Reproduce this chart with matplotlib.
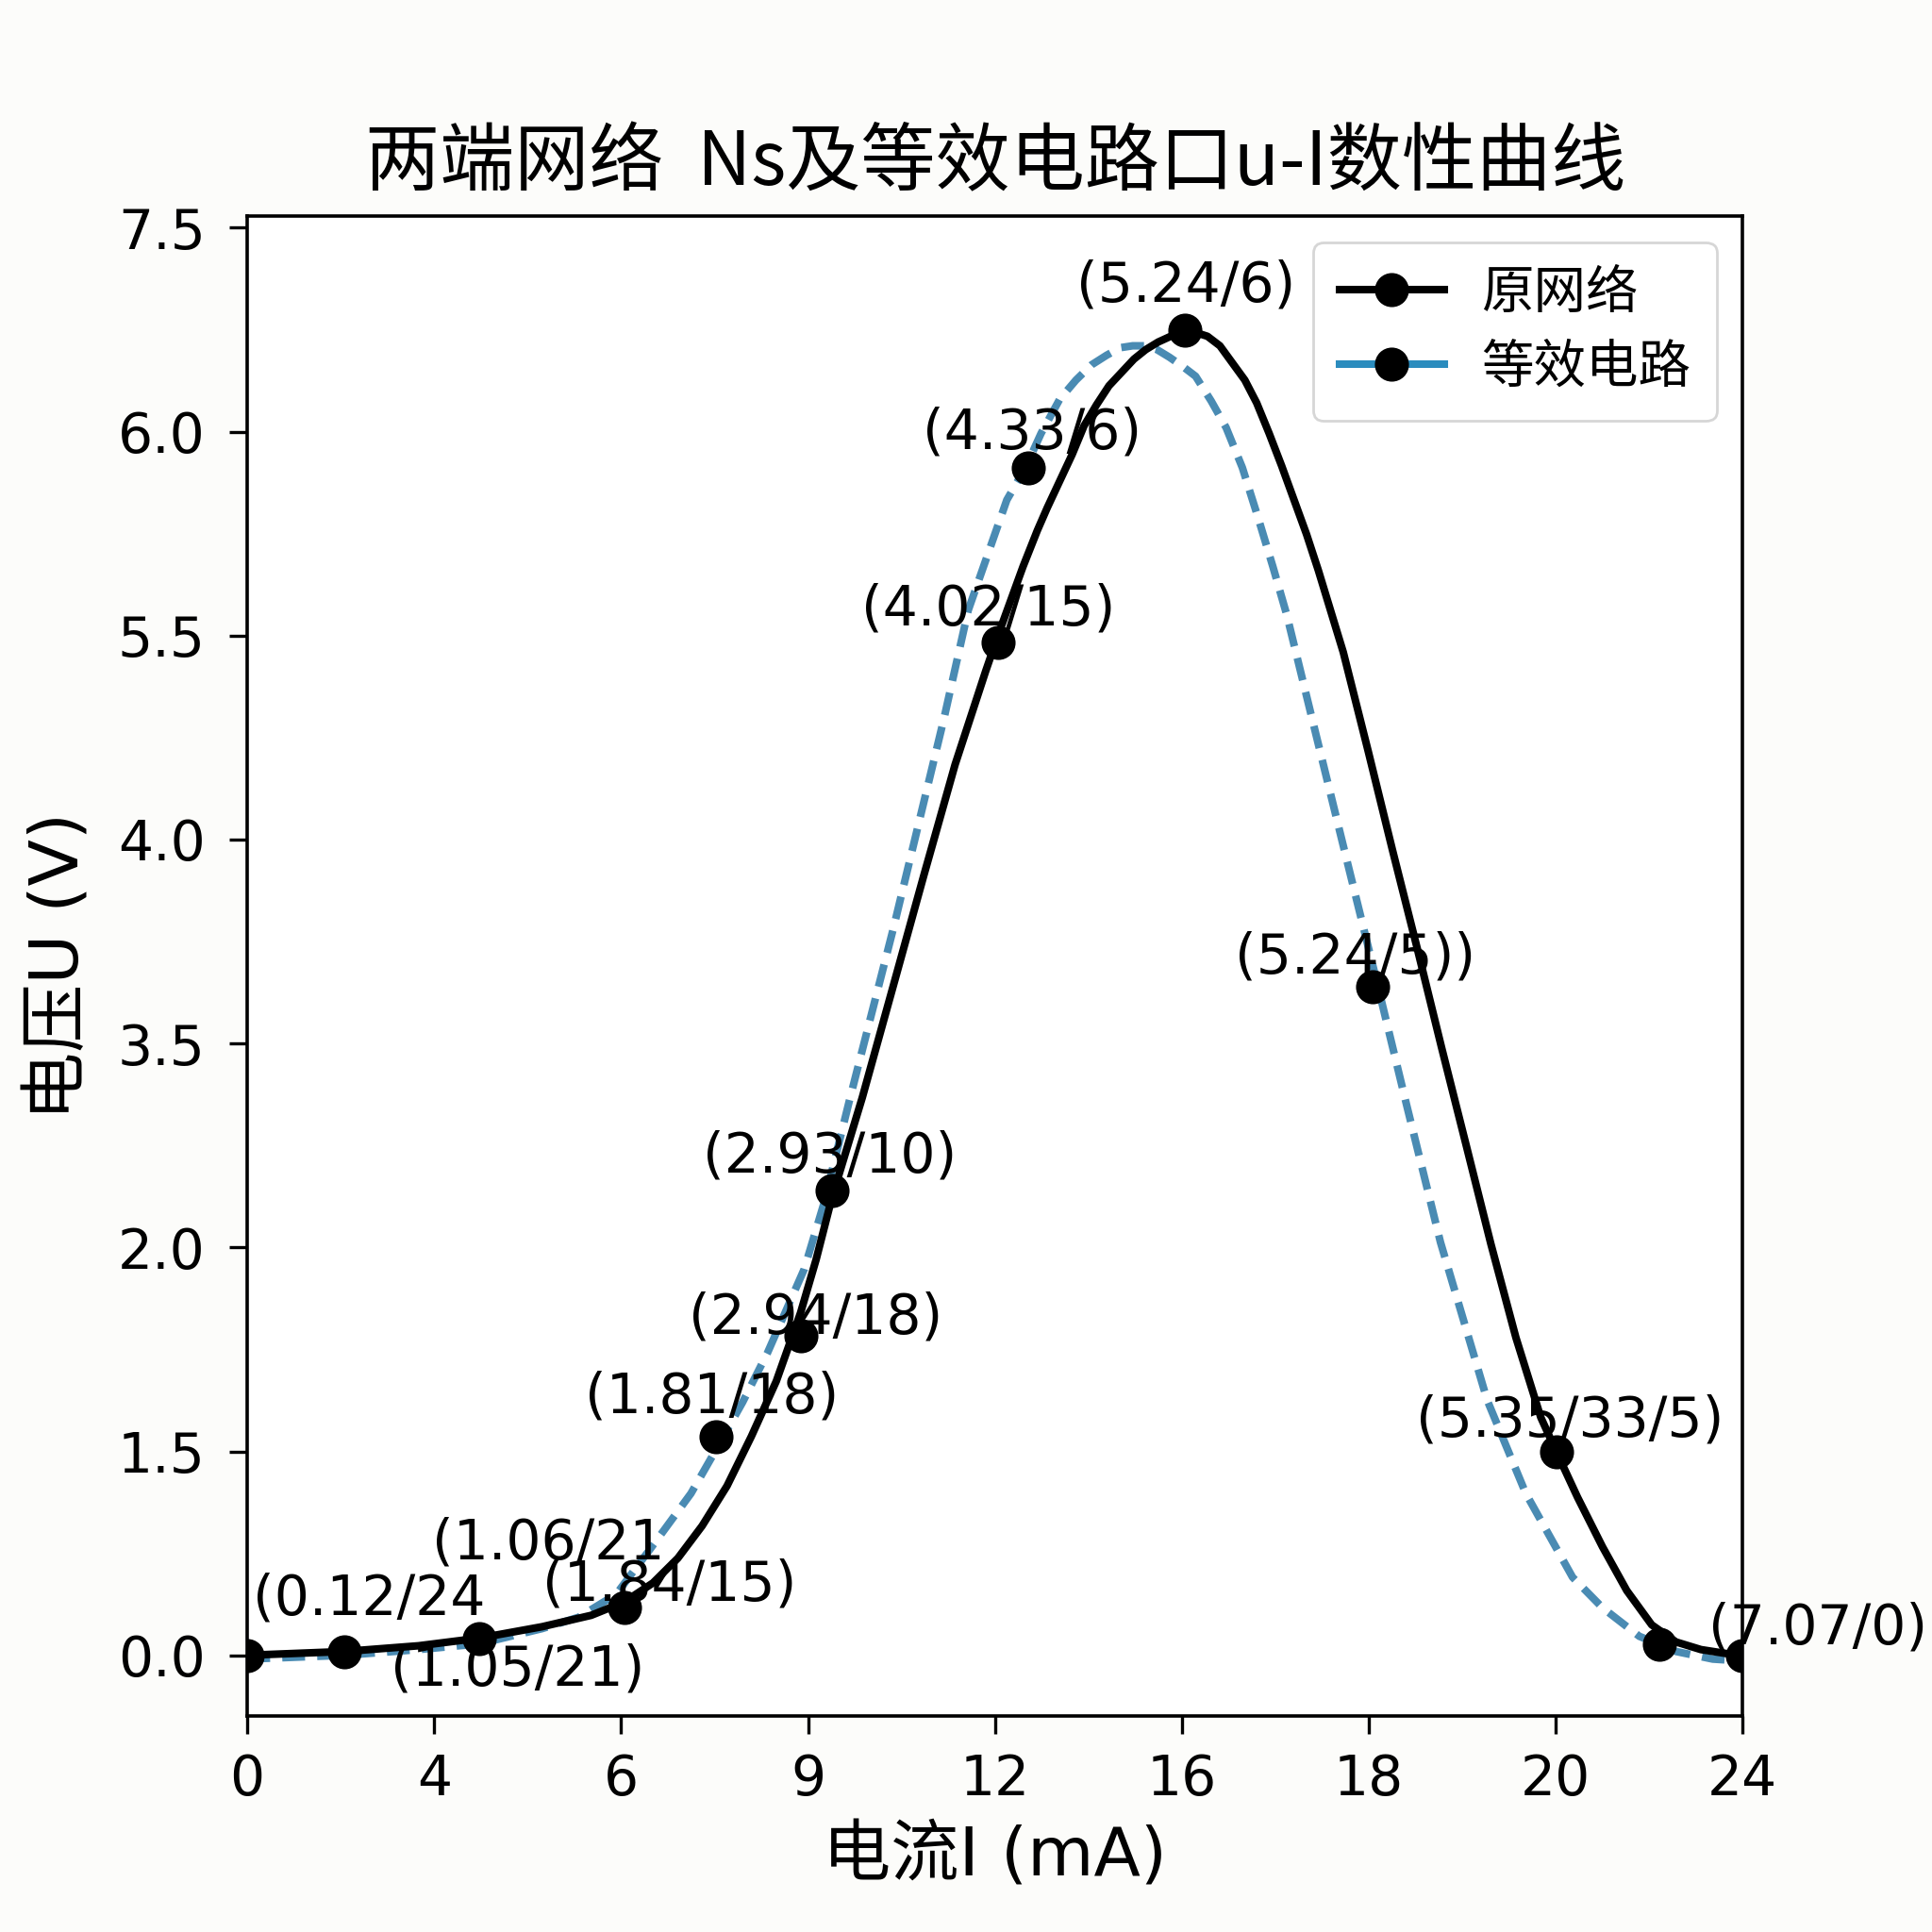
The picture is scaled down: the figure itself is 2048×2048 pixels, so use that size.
import matplotlib
matplotlib.use("Agg")
import matplotlib.pyplot as plt
from matplotlib.lines import Line2D

plt.rcParams["font.family"] = ["DejaVu Sans", "Noto Sans CJK SC"]
plt.rcParams["axes.unicode_minus"] = False

# Data (axis units: x 0..24, y 0..7.5, tick labels are the printed ones)
x_ticks = [0, 3, 6, 9, 12, 15, 18, 21, 24]
x_ticklabels = ["0", "4", "6", "9", "12", "16", "18", "20", "24"]
y_ticks = [0, 1.0714, 2.1429, 3.2143, 4.2857, 5.3571, 6.4286, 7.5]
y_ticklabels = ["0.0", "1.5", "2.0", "3.5", "4.0", "5.5", "6.0", "7.5"]

# 原网络 (solid curve)
orig_x = [0, 1.56, 2.75, 3.72, 4.73, 5.52, 6.05, 6.51, 6.91, 7.30, 7.70, 8.09,
          8.49, 8.88, 9.13, 9.38, 9.87, 10.37, 10.86, 11.36, 11.85, 12.05, 12.45,
          12.68, 12.84, 13.04, 13.24, 13.43, 13.63, 13.83, 14.03, 14.23, 14.42,
          14.62, 14.82, 15.04, 15.22, 15.41, 15.61, 15.81, 16.01, 16.20, 16.40,
          16.60, 16.80, 17.00, 17.19, 17.59, 17.99, 18.38, 18.78, 19.17, 19.57,
          19.96, 20.36, 20.76, 21.01, 21.35, 21.75, 22.14, 22.54, 22.93, 23.33,
          23.72, 24.0]
orig_y = [0, 0.02, 0.05, 0.09, 0.15, 0.21, 0.28, 0.38, 0.51, 0.68, 0.89, 1.15,
          1.44, 1.80, 2.08, 2.40, 2.93, 3.52, 4.10, 4.68, 5.17, 5.36, 5.72,
          5.91, 6.03, 6.17, 6.31, 6.46, 6.57, 6.67, 6.74, 6.81, 6.86,
          6.90, 6.93, 6.96, 6.95, 6.93, 6.88, 6.79, 6.70, 6.58, 6.42,
          6.25, 6.07, 5.89, 5.70, 5.27, 4.75, 4.23, 3.71, 3.19, 2.67,
          2.16, 1.67, 1.25, 1.07, 0.83, 0.57, 0.34, 0.16, 0.07, 0.03,
          0.01, 0.0]

# 等效电路 (dashed curve)
equiv_x = [0, 1.56, 2.75, 3.72, 4.73, 5.32, 5.92, 6.47, 7.12, 7.54, 7.95, 8.35,
           8.94, 9.26, 9.66, 10.37, 11.18, 11.57, 12.19, 12.49, 12.74, 13.04, 13.30,
           13.55, 13.79, 14.01, 14.21, 14.40, 14.60, 14.80, 15.02, 15.22, 15.47,
           15.71, 15.97, 16.22, 16.46, 16.68, 17.15, 17.63, 18.12, 18.60,
           19.15, 19.90, 20.52, 21.27, 21.75, 22.34, 22.93, 23.52, 24.0]
equiv_y = [-0.02, 0.0, 0.03, 0.06, 0.14, 0.20, 0.32, 0.56, 0.85, 1.09, 1.33, 1.59,
           2.03, 2.38, 2.91, 3.82, 4.92, 5.49, 6.07, 6.24, 6.42, 6.60, 6.70,
           6.78, 6.83, 6.87, 6.88, 6.88, 6.86, 6.82, 6.77, 6.72, 6.59,
           6.45, 6.24, 5.98, 5.72, 5.47, 4.84, 4.20, 3.55, 2.90,
           2.17, 1.34, 0.85, 0.41, 0.25, 0.10, 0.02, -0.02, -0.03]

# measured points
pts_x = [0, 1.56, 3.72, 6.05, 7.52, 8.88, 9.38, 12.05, 12.54, 15.04, 18.06, 21.01, 22.66, 24.0]
pts_y = [0, 0.02, 0.09, 0.25, 1.15, 1.68, 2.44, 5.32, 6.24, 6.96, 3.51, 1.07, 0.06, 0.0]

labels = ["(0.12/24", "(1.06/21", "(1.05/21)", "(1.84/15)", "(1.81/18)",
          "(2.94/18)", "(2.93/10)", "(4.02/15)", "(4.33/6)", "(5.24/6)",
          "(5.24/5))", "(5.35/33/5)", "(7.07/0)"]
label_pt = [0, 2, 2, 3, 4, 5, 6, 7, 8, 9, 10, 11, 13]
label_off = [(46.5, 21.6), (26.3, 36.2), (14.6, -12.2), (17.4, 8.9), (-1.4, 15.0),
             (5.6, 6.6), (-0.9, 13.2), (-3.8, 12.7), (1.4, 13.2), (0.5, 16.9),
             (-6.6, 11.3), (5.2, 11.8), (28.7, 10.3)]

fig = plt.figure(figsize=(10.24, 10.24), dpi=200, facecolor="#fcfcfa")
ax = fig.add_axes([0.128, 0.112, 0.774, 0.776])
ax.set_facecolor("white")

ax.plot(orig_x, orig_y, color="black", lw=2.9, zorder=3, solid_joinstyle="round")
ax.plot(equiv_x, equiv_y, color="#4a8bb3", lw=2.9, ls=(0, (3.0, 1.6)), zorder=2)
ax.plot(pts_x, pts_y, "o", color="black", ms=12, zorder=4)

for t, i, off in zip(labels, label_pt, label_off):
    ax.annotate(t, (pts_x[i], pts_y[i]), xytext=off, textcoords="offset points",
                ha="center", va="center", fontsize=21, zorder=5)

ax.set_xlim(0, 24)
ax.set_ylim(-0.317, 7.56)
ax.set_xticks(x_ticks)
ax.set_xticklabels(x_ticklabels)
ax.set_yticks(y_ticks)
ax.set_yticklabels(y_ticklabels)
ax.tick_params(axis="both", labelsize=21, length=7, width=1.2)
ax.tick_params(axis="x", pad=7)
ax.tick_params(axis="y", pad=9)
for s in ax.spines.values():
    s.set_linewidth(1.3)

ax.set_xlabel("电流I (mA)", fontsize=26)
ax.set_ylabel("电压U (V)", fontsize=26)
ax.xaxis.set_label_coords(0.5, -0.072)
ax.yaxis.set_label_coords(-0.103, 0.5)
ax.set_title("两端网络  Ns及等效电路口u-I数性曲线", fontsize=28.5, pad=12,
             family=["Noto Sans CJK SC", "DejaVu Sans"])

handles = [
    Line2D([], [], color="black", lw=2.9, marker="o", ms=12, mfc="black", mec="black"),
    Line2D([], [], color="#2b8cbe", lw=2.9, marker="o", ms=12, mfc="black", mec="black"),
]
ax.legend(handles, ["原网络", "等效电路"], loc="upper right", fontsize=20,
          handlelength=2.0, handletextpad=0.7, borderpad=0.5, labelspacing=0.45)

fig.savefig("out.png", dpi=200, facecolor=fig.get_facecolor())
